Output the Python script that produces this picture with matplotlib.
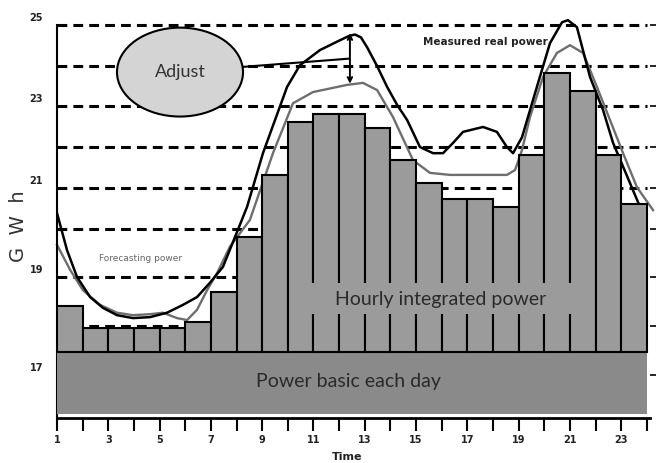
import numpy as np
import matplotlib
matplotlib.use('Agg')
import matplotlib.pyplot as plt
from matplotlib.patches import Ellipse, Rectangle
from matplotlib.transforms import ScaledTranslation

# 每小时积分电量 (GWh), 小时 1..23
hours = np.arange(1, 24)
hourly_power = [18.41, 17.96, 17.96, 17.96, 17.96, 18.08, 18.70, 19.84, 21.32, 22.61,
                22.80, 22.80, 22.46, 21.68, 21.12, 20.73, 20.73, 20.54, 21.80, 23.83,
                23.38, 21.80, 20.61]
base_power = 17.47   # 每日基础电量上沿
base_floor = 16.2

# 实测功率曲线
measured_t = [1.0, 1.39, 1.78, 2.29, 2.79, 3.34, 3.96, 4.63, 5.29, 5.91, 6.46, 6.96,
              7.47, 8.02, 8.41, 9.03, 9.97, 10.47, 11.25, 12.03, 12.4, 12.62, 12.85,
              13.09, 13.48, 13.87, 14.26, 14.65, 15.15, 15.66, 16.05, 16.44, 16.83,
              17.61, 18.15, 18.54, 18.78, 19.13, 19.71, 20.22, 20.69, 20.92, 21.27,
              21.78, 22.29, 22.68, 23.34, 23.73]
measured_p = [20.39, 19.56, 19.0, 18.59, 18.37, 18.22, 18.16, 18.18, 18.27, 18.43,
              18.59, 18.88, 19.21, 19.94, 20.54, 21.85, 23.48, 24.02, 24.39, 24.63,
              24.74, 24.77, 24.7, 24.46, 24.0, 23.48, 23.03, 22.66, 22.0, 21.85, 21.85,
              22.1, 22.37, 22.49, 22.37, 22.0, 21.85, 22.24, 23.48, 24.56, 25.07,
              25.12, 24.95, 23.73, 22.9, 22.1, 21.12, 20.54]

# 预测功率曲线
forecast_t = [1.0, 1.51, 2.01, 2.68, 3.34, 3.96, 4.63, 5.13, 5.68, 6.07, 6.46, 6.85,
              7.24, 7.74, 8.52, 9.42, 10.2, 10.98, 12.31, 12.93, 13.48, 14.1, 14.88,
              15.54, 16.32, 17.49, 18.54, 18.86, 19.13, 19.44, 19.95, 20.49, 21.0,
              21.51, 22.05, 22.56, 23.07, 23.61, 24.24]
forecast_p = [19.67, 19.15, 18.73, 18.43, 18.27, 18.22, 18.24, 18.27, 18.16, 18.12,
              18.33, 18.73, 19.08, 19.63, 20.22, 21.85, 23.07, 23.35, 23.53, 23.58,
              23.4, 22.73, 21.68, 21.37, 21.32, 21.32, 21.32, 21.44, 21.93, 22.73,
              23.73, 24.32, 24.51, 24.32, 23.48, 22.66, 21.85, 21.02, 20.46]

# 原图纵轴刻度间距不均匀
knot_v = [14, 17, 18, 19, 20, 21, 22, 23, 24, 25, 28]
knot_px = np.array([522, 375, 326, 277, 229, 188, 147, 106, 66, 25, -98])


def fwd(v):
    return np.interp(v, knot_v, -knot_px)


def inv(t):
    return np.interp(t, -knot_px, knot_v)


bar_col = '#9b9b9b'
base_col = '#8a8a8a'
narrow = ['Liberation Sans Narrow', 'DejaVu Sans Condensed', 'DejaVu Sans']
big = ['Lato', 'DejaVu Sans']

fig = plt.figure(figsize=(6.63, 4.63), dpi=100)
ax = fig.add_axes([57 / 663, 45 / 463, 592.5 / 663, 406 / 463])
ax.set_yscale('function', functions=(fwd, inv))
ax.set_xlim(1, 24.1)
ax.set_ylim(16.12, 25.32)

# 虚线网格
ax.hlines(np.arange(18, 26), 1, 24, colors='black', linewidth=2.2,
          linestyles=(0, (3.2, 2.0)), zorder=1)

ax.plot(forecast_t, forecast_p, color='#6e6e6e', lw=1.7, zorder=2, clip_on=False,
        solid_joinstyle='round')
ax.plot(measured_t, measured_p, color='black', lw=1.8, zorder=2,
        solid_joinstyle='round')

ax.bar(1, base_power - base_floor, width=23, bottom=base_floor, align='edge',
       color=base_col, edgecolor='none', zorder=3)
ax.bar(hours, np.array(hourly_power) - base_power, width=1, bottom=base_power,
       align='edge', color=bar_col, edgecolor='black', linewidth=1.5, zorder=3)

ax.add_patch(Rectangle((10.25, 18.24), 11.55, 0.64, facecolor=bar_col,
                       edgecolor='none', zorder=4))
ax.text(15.97, 18.55, 'Hourly integrated power', ha='center', va='center',
        fontsize=14, family=big, color='#2a2a2a', zorder=5)
ax.text(12.38, 16.86, 'Power basic each day', ha='center', va='center',
        fontsize=14, family=big, color='#2a2a2a', zorder=5)

# Adjust 标注
ax.add_patch(Ellipse((0.2076, 0.852), 0.2127, 0.219, transform=ax.transAxes,
                     facecolor='#d4d4d4', edgecolor='black', lw=1.5, zorder=6,
                     clip_on=False))
ax.text(0.2076, 0.852, 'Adjust', transform=ax.transAxes, ha='center', va='center',
        fontsize=13, family=big, color='#333333', zorder=7)
ax.plot([8.25, 12.35], [23.98, 24.18], color='black', lw=1.5, zorder=6)
ax.annotate('', xy=(12.42, 24.8), xytext=(12.42, 23.56),
            arrowprops=dict(arrowstyle='<->', color='black', lw=1.4,
                            mutation_scale=8, shrinkA=0, shrinkB=0), zorder=6)

ax.text(17.69, 24.59, 'Measured real power', ha='center', va='center',
        fontsize=7.5, fontweight='bold', family=narrow, color='#222222')
ax.text(4.24, 19.38, 'Forecasting power', ha='center', va='center',
        fontsize=6.5, family=narrow, color='#666666')

# 坐标轴
for s in ['top', 'right']:
    ax.spines[s].set_visible(False)
ax.spines['left'].set_bounds(16.12, 25)
ax.spines['left'].set_linewidth(1.5)
ax.spines['bottom'].set_linewidth(2)

ax.set_xticks(range(1, 25))
ax.set_xticklabels([str(h) if h % 2 == 1 else '' for h in range(1, 25)])
ax.tick_params(axis='x', direction='out', length=9.5, width=1.5, pad=3,
               labelsize=7)
ax.set_yticks(range(17, 26))
ax.set_yticklabels([str(v) if v % 2 == 1 else '' for v in range(17, 26)])
ax.tick_params(axis='y', right=True, direction='out', length=4, width=1.2,
               pad=6, labelsize=7)
for t in ax.yaxis.get_major_ticks():
    t.tick1line.set_visible(False)
for lab in ax.get_xticklabels() + ax.get_yticklabels():
    lab.set_family(narrow)
    lab.set_fontweight('bold')
    lab.set_color('#222222')
for lab in ax.get_yticklabels():
    lab.set_transform(lab.get_transform() + ScaledTranslation(0, 8 / 100, fig.dpi_scale_trans))

fig.text(347 / 663, 1 - 457 / 463, 'Time', ha='center', va='center',
         fontsize=8, fontweight='bold', family=narrow, color='#222222')
fig.text(18 / 663, 1 - 226 / 463, 'G  W  h', ha='center', va='center', rotation=90,
         fontsize=14, color='#333333')

fig.savefig('out.png', dpi=100)
